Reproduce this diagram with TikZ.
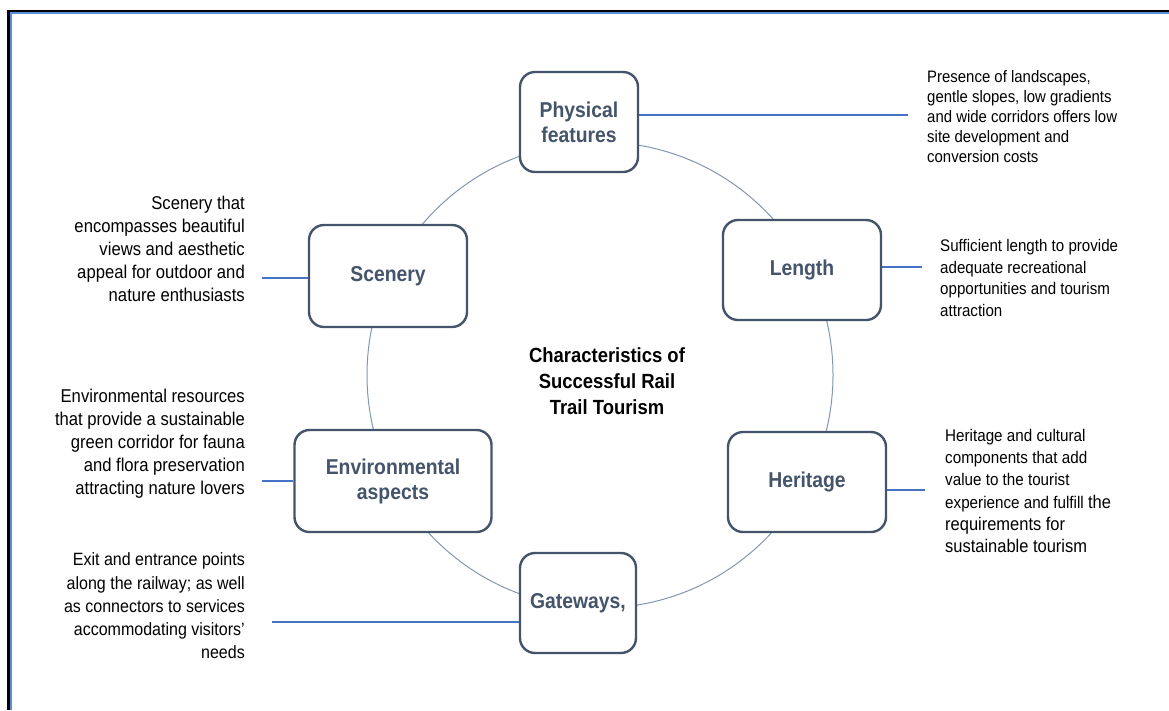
\documentclass[tikz,border=0pt]{standalone}
\usepackage{fontspec}
\setmainfont{Liberation Sans}[FakeStretch=0.9]
\usepackage{tikz}
\usetikzlibrary{positioning}

\definecolor{boxgray}{HTML}{44546A}
\definecolor{ringgray}{HTML}{8497B0}
\definecolor{linkblue}{HTML}{4472C4}
\definecolor{frameblue}{HTML}{5B8ED8}

\newcommand{\bigtxt}[1]{{\fontsize{18.3}{22}\selectfont #1}}

\begin{document}
\begin{tikzpicture}[x=1pt, y=-1pt,
	feature/.style={draw=boxgray, line width=2.4pt, rounded corners=15pt, fill=white, align=center, inner sep=0pt, text=boxgray, font=\fontsize{21.5}{25}\selectfont\bfseries},
	leftdesc/.style={anchor=east, align=right, inner sep=0pt, font=\fontsize{18.5}{23}\selectfont},
	rightdesc/.style={anchor=west, align=left, inner sep=0pt},
	link/.style={draw=linkblue, line width=1.1pt},
	heading/.style={align=center, inner sep=0pt, font=\fontsize{20.5}{26}\selectfont\bfseries}]
	\useasboundingbox (0,0) rectangle (1169,710);
	\fill[white] (0,0) rectangle (1169,710);
	% frame
	\draw[black, line width=3pt] (8.5,10) -- (8.5,710);
	\draw[black, line width=2pt] (7,11) -- (1169,11);
	\draw[frameblue, line width=2pt] (11,12) -- (11,710);
	\draw[frameblue, line width=2pt] (10,13) -- (1169,13);
	% ring
	\draw[ringgray, line width=1pt] (600,375) circle (233pt);
	% title
	\node[heading] (title) at (607,381) {Characteristics of\\Successful Rail\\Trail Tourism};
	% characteristics
	\node[feature, minimum width=118, minimum height=100] (phys) at (579,122) {Physical\\features};
	\node[feature, minimum width=158, minimum height=100] (len) at (802,270) {Length};
	\node[feature, minimum width=158, minimum height=100] (herit) at (807,482) {Heritage};
	\node[feature, minimum width=116, minimum height=100] (gate) at (578,603) {Gateways,};
	\node[feature, minimum width=197, minimum height=102] (env) at (393,481) {Environmental\\aspects};
	\node[feature, minimum width=158, minimum height=102] (scen) at (388,276) {Scenery};
	% descriptions
	\node[rightdesc, font=\fontsize{16.6}{20}\selectfont] (physdesc) at (927,117)
		{Presence of landscapes,\\gentle slopes, low gradients\\and wide corridors offers low\\site development and\\conversion costs};
	\node[rightdesc, font=\fontsize{16.8}{21.5}\selectfont] (lendesc) at (940,278)
		{Sufficient length to provide\\adequate recreational\\opportunities and tourism\\attraction};
	\node[rightdesc, font=\fontsize{16.9}{22.2}\selectfont] (heritdesc) at (945,491)
		{Heritage and cultural\\components that add\\value to the tourist\\experience and fulfill \bigtxt{the}\\\bigtxt{requirements for}\\\bigtxt{sustainable tourism}};
	\node[leftdesc] (scendesc) at (245,249)
		{Scenery that\\encompasses beautiful\\views and aesthetic\\appeal for outdoor and\\nature enthusiasts};
	\node[leftdesc] (envdesc) at (245,444)
		{Environmental resources\\that provide a sustainable\\green corridor for fauna\\and flora preservation\\attracting nature lovers};
	\node[leftdesc, font=\fontsize{17.8}{23.2}\selectfont] (gatedesc) at (245,606)
		{Exit and entrance points\\along the railway; as well\\as connectors to services\\accommodating visitors'\\needs};
	% connectors
	\coordinate (physend) at (908,115);
	\coordinate (lenend) at (922,267);
	\coordinate (heritend) at (925,490);
	\coordinate (gateend) at (272,622);
	\coordinate (envend) at (262,481);
	\coordinate (scenend) at (262,278);
	\draw[link] (phys.east |- physend) -- (physend);
	\draw[link] (len.east |- lenend) -- (lenend);
	\draw[link] (herit.east |- heritend) -- (heritend);
	\draw[link] (gateend) -- (gate.west |- gateend);
	\draw[link] (envend) -- (env.west |- envend);
	\draw[link] (scenend) -- (scen.west |- scenend);
\end{tikzpicture}
\end{document}
